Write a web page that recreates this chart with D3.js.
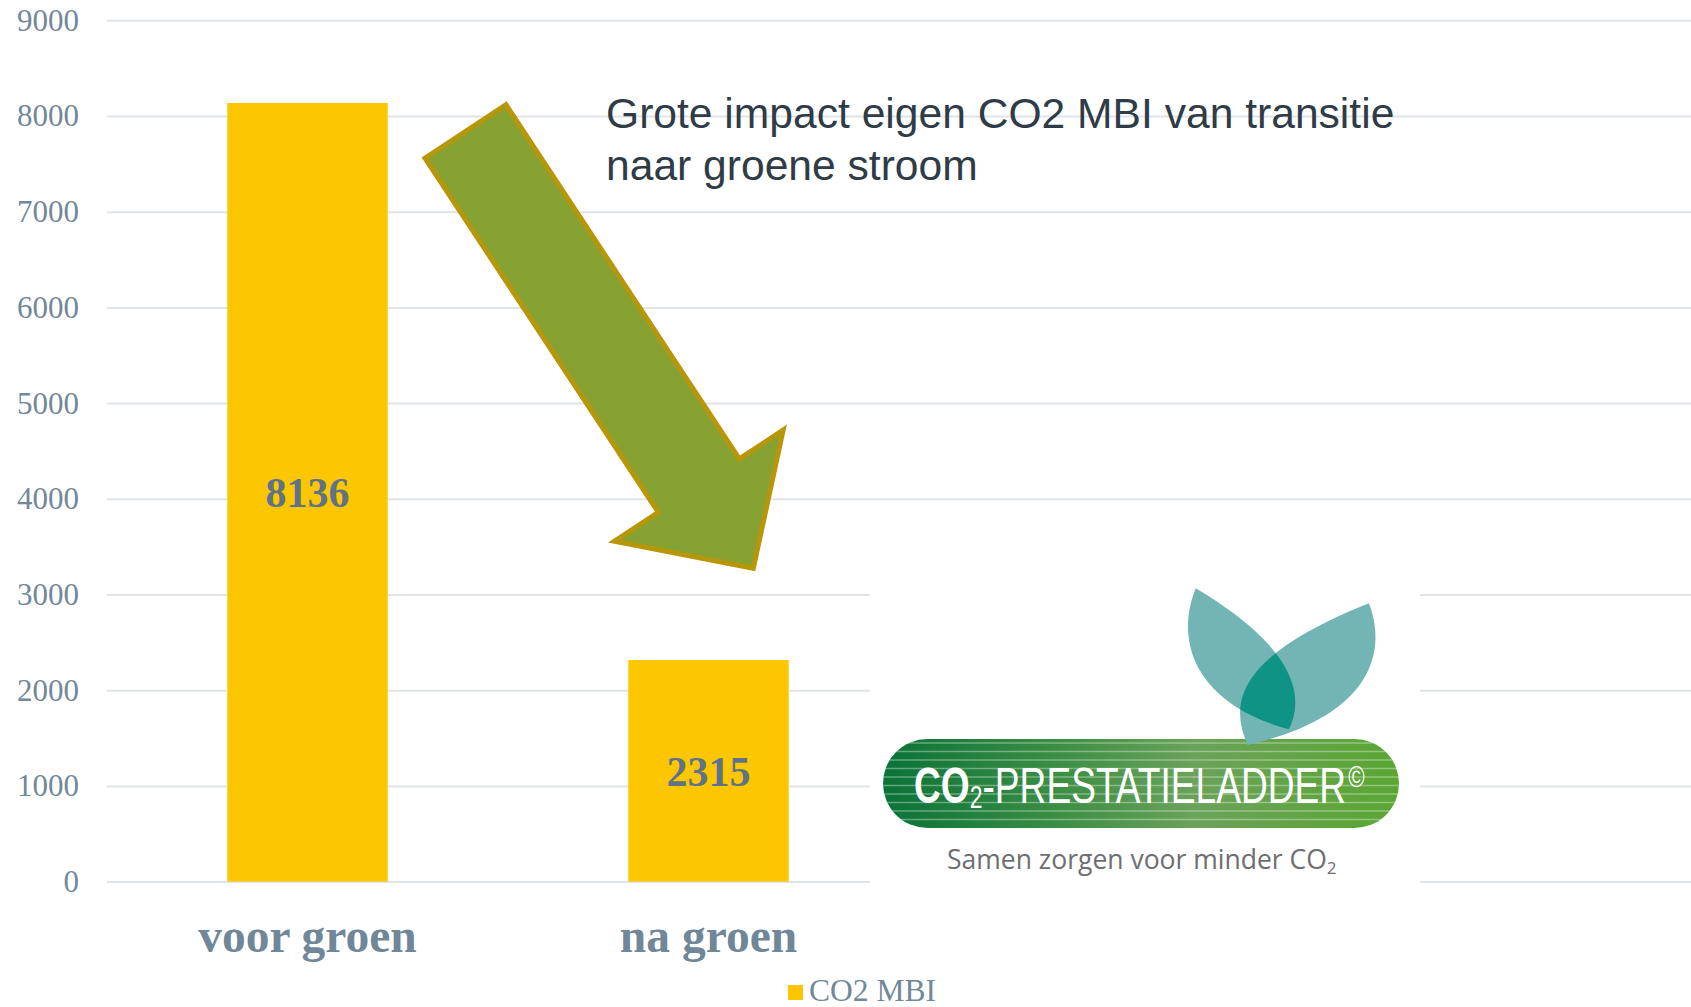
<!DOCTYPE html>
<html>
<head>
<meta charset="utf-8">
<script src="https://cdn.jsdelivr.net/npm/d3@7"></script>
<style>
  body { margin: 0; background: #fff; overflow: hidden; }
  svg { display: block; }
</style>
</head>
<body>
<div id="chart_div"></div>
<script>
// data
const categories = ["voor groen", "na groen"];
const co2_values = [8136, 2315];
const y_ticks = [0, 1000, 2000, 3000, 4000, 5000, 6000, 7000, 8000, 9000];
const series_name = "CO2 MBI";
const title_lines = ["Grote impact eigen CO2 MBI van transitie", "naar groene stroom"];

const width = 1691, height = 1007;
const margin = {top: 20.3, right: 0, bottom: 125.4, left: 107};

const svg = d3.select("#chart_div")
  .append("svg")
    .attr("width", width)
    .attr("height", height);

// scales
const y = d3.scaleLinear()
  .domain([0, 9000])
  .range([height - margin.bottom, margin.top]);

const x = d3.scaleBand()
  .domain(categories)
  .range([margin.left, margin.left + 802])
  .paddingInner(0.6)
  .paddingOuter(0.3);

// gridlines + y labels
const yAxis = svg.append("g")
  .attr("transform", `translate(${margin.left},0)`)
  .call(d3.axisLeft(y).tickValues(y_ticks).tickSize(-(width - margin.left)).tickPadding(28).tickFormat(d3.format("d")));
yAxis.select(".domain").remove();
yAxis.selectAll(".tick line").attr("stroke", "#dfe4ea").attr("stroke-width", 2);
yAxis.selectAll(".tick text")
  .style("font-family", "'Liberation Serif', 'Times New Roman', serif")
  .style("font-size", "31px")
  .attr("fill", "#71889b");

// bars
svg.selectAll(".bar")
  .data(co2_values)
  .join("rect")
    .attr("class", "bar")
    .attr("x", (d, i) => x(categories[i]))
    .attr("width", x.bandwidth())
    .attr("y", d => y(d))
    .attr("height", d => y(0) - y(d))
    .attr("fill", "#fcc600");

// value labels in the middle of bars
svg.selectAll(".val")
  .data(co2_values)
  .join("text")
    .attr("class", "val")
    .attr("x", (d, i) => x(categories[i]) + x.bandwidth() / 2)
    .attr("y", d => y(d / 2))
    .attr("dy", "0.35em")
    .attr("text-anchor", "middle")
    .style("font-family", "'Liberation Serif', 'Times New Roman', serif")
    .style("font-weight", "bold")
    .style("font-size", "42px")
    .attr("fill", "#5f7388")
    .text(d => d);

// category labels
svg.selectAll(".cat")
  .data(categories)
  .join("text")
    .attr("class", "cat")
    .attr("x", d => x(d) + x.bandwidth() / 2)
    .attr("y", 952)
    .attr("text-anchor", "middle")
    .style("font-family", "'Liberation Serif', 'Times New Roman', serif")
    .style("font-weight", "bold")
    .style("font-size", "47.5px")
    .attr("fill", "#6f8799")
    .text(d => d);

// legend
const legend = svg.append("g").attr("transform", "translate(788,985)");
legend.append("rect").attr("width", 15).attr("height", 15).attr("fill", "#fcc600");
legend.append("text")
  .attr("x", 21).attr("y", 16)
  .style("font-family", "'Liberation Serif', 'Times New Roman', serif")
  .style("font-size", "31.5px")
  .attr("fill", "#71889b")
  .text(series_name);

// big arrow annotation (tail centre -> tip)
const arrow = {tail: [465.5, 131.5], tip: [753.3, 568.3], shaft: 97, head: 202, headLen: 99};
(function drawArrow() {
  const dx = arrow.tip[0] - arrow.tail[0], dy = arrow.tip[1] - arrow.tail[1];
  const len = Math.hypot(dx, dy);
  const ux = dx / len, uy = dy / len, px = -uy, py = ux;
  const base = [arrow.tip[0] - ux * arrow.headLen, arrow.tip[1] - uy * arrow.headLen];
  const pt = (c, w) => [c[0] + px * w, c[1] + py * w];
  const pts = [
    pt(arrow.tail, arrow.shaft / 2), pt(base, arrow.shaft / 2), pt(base, arrow.head / 2),
    arrow.tip,
    pt(base, -arrow.head / 2), pt(base, -arrow.shaft / 2), pt(arrow.tail, -arrow.shaft / 2)
  ];
  svg.append("path")
    .attr("d", d3.line()(pts) + "Z")
    .attr("fill", "#86a232")
    .attr("stroke", "#b8960a")
    .attr("stroke-width", 5)
    .attr("stroke-linejoin", "miter");
})();

// title annotation
svg.append("text")
  .attr("x", 606).attr("y", 128)
  .style("font-family", "'Liberation Sans', Arial, sans-serif")
  .style("font-size", "42.6px")
  .attr("fill", "#2f3b47")
  .selectAll("tspan")
  .data(title_lines)
  .join("tspan")
    .attr("x", 606)
    .attr("dy", (d, i) => i === 0 ? 0 : 52)
    .text(d => d);

// logo (CO2-prestatieladder)
const logo = svg.append("g").attr("class", "logo");
logo.append("rect").attr("x", 870).attr("y", 575).attr("width", 550).attr("height", 320).attr("fill", "#fff");

const defs = svg.append("defs");
const grad = defs.append("linearGradient").attr("id", "pillGrad");
grad.append("stop").attr("offset", "0%").attr("stop-color", "#0a7238");
grad.append("stop").attr("offset", "35%").attr("stop-color", "#3d8f44");
grad.append("stop").attr("offset", "60%").attr("stop-color", "#6aa25a");
grad.append("stop").attr("offset", "100%").attr("stop-color", "#5aa632");
defs.append("clipPath").attr("id", "pillClip")
  .append("rect").attr("x", 883).attr("y", 739).attr("width", 516).attr("height", 89).attr("rx", 44.5);

logo.append("rect").attr("x", 883).attr("y", 739).attr("width", 516).attr("height", 89).attr("rx", 44.5)
  .attr("fill", "url(#pillGrad)");
logo.append("g").attr("clip-path", "url(#pillClip)")
  .selectAll("line")
  .data(d3.range(743, 828, 8.5))
  .join("line")
    .attr("x1", 883).attr("x2", 1399)
    .attr("y1", d => d).attr("y2", d => d)
    .attr("stroke", "#ffffff").attr("stroke-opacity", 0.35).attr("stroke-width", 1.3);

// logo wordmark: one text, squeezed horizontally to look condensed
const mark = logo.append("text")
  .style("font-family", "'Liberation Sans', Arial, sans-serif")
  .style("font-size", "50px")
  .attr("fill", "#fff");
mark.append("tspan").style("font-weight", "bold").text("CO");
mark.append("tspan").attr("dy", 5).style("font-size", "31px").text("2");
mark.append("tspan").attr("dy", -5).text("-PRESTATIELADDER");
mark.append("tspan").attr("dy", -16).attr("dx", 3).style("font-size", "30px").text("©");
const markW = mark.node().getBBox().width;
mark.attr("transform", `translate(914,803) scale(${451 / markW},1)`);

// leaves
const leafA = "M1195.7,588.3 C1174,642 1196,704 1288.6,729.3 C1304,700 1300,650 1195.7,588.3Z";
const leafB = "M1368.9,603.3 C1387,650 1374,716 1247.5,745 C1228,700 1240,655 1368.9,603.3Z";
defs.append("clipPath").attr("id", "leafAClip").append("path").attr("d", leafA);
logo.append("path").attr("d", leafA).attr("fill", "#72b5b4");
logo.append("path").attr("d", leafB).attr("fill", "#72b5b4");
logo.append("path").attr("d", leafB).attr("clip-path", "url(#leafAClip)").attr("fill", "#0e9385");

// subtitle
const sub = logo.append("text").attr("x", 947).attr("y", 869)
  .style("font-family", "'Open Sans', 'Noto Sans', sans-serif").style("font-size", "26.5px")
  .attr("fill", "#6d6e70");
sub.append("tspan").text("Samen zorgen voor minder CO");
sub.append("tspan").attr("dy", 5).style("font-size", "17px").text("2");
</script>
</body>
</html>
